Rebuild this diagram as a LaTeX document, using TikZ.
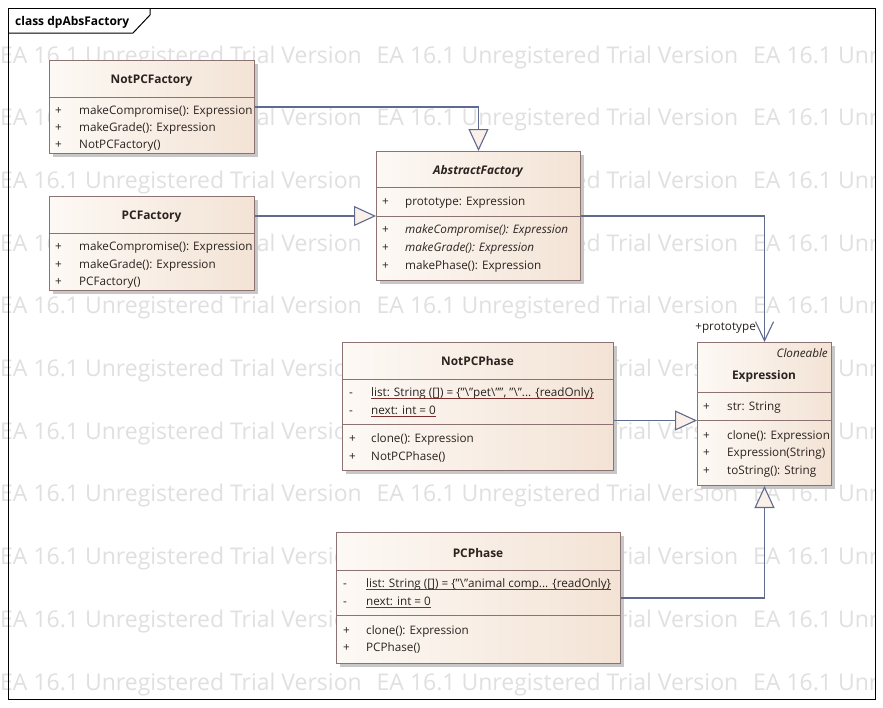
\documentclass[tikz,border=0pt]{standalone}
\usepackage{fontspec}
\setmainfont{Open Sans}
\usetikzlibrary{arrows.meta,shadows}
\definecolor{wm}{HTML}{E0E0E0}
\definecolor{bordc}{HTML}{8C7272}
\definecolor{linec}{HTML}{5E6A8E}
\definecolor{fillL}{HTML}{FDF9F5}
\definecolor{fillR}{HTML}{F3E3D5}
\definecolor{txt}{HTML}{2A2320}
\definecolor{ulc}{HTML}{7A2E2E}
\definecolor{trif}{HTML}{FBEFE9}
\begin{document}
\begin{tikzpicture}[x=1pt,y=-1pt,
  classbox/.style={draw=bordc, line width=1pt, left color=fillL, right color=fillR,
    anchor=north west, inner sep=0pt,
    drop shadow={shadow xshift=3pt, shadow yshift=-3pt, fill=black!22, opacity=1}},
  divider/.style={draw=bordc, line width=1pt},
  mem/.style={anchor=base west, inner sep=0pt, font=\fontsize{11.7}{13}\selectfont, text=txt},
  vis/.style={anchor=base west, inner sep=0pt, font=\fontsize{11.7}{13}\selectfont, text=txt},
  hdr/.style={anchor=base, inner sep=0pt, font=\fontsize{11.9}{13}\selectfont\bfseries, text=txt},
  wmk/.style={anchor=base west, inner sep=0pt, font=\fontsize{23}{26}\selectfont, text=wm},
  gen/.style={draw=linec, line width=1.1pt, -{Triangle[length=22pt,width=20pt,fill=trif,line width=1.1pt]}},
  assoc/.style={draw=linec, line width=1.1pt, -{Straight Barb[length=19pt,width=18pt,line width=1.1pt]}},
  ul/.style={draw=ulc, line width=0.8pt}
]
\useasboundingbox (0,0) rectangle (883,707);
\fill[white] (0,0) rectangle (883,707);

% watermark
\begin{scope}
\clip (0,0) rectangle (875,707);
\foreach \r in {0,...,10}{
  \foreach \c in {0,1,2}{
    \node[wmk] (w-\r-\c) at (\c*376.5, 63+\r*62.7) {EA 16.1 Unregistered Trial Version};
  }
}
\end{scope}

% frame
\draw[black, line width=1pt] (8,8) rectangle (875,699);
\draw[black, line width=1pt] (150,8) -- (150,15) -- (133,33) -- (8,33);
\node[anchor=base west, inner sep=0pt, font=\fontsize{12}{13}\selectfont\bfseries] (title) at (15,25) {class dpAbsFactory};

% NotPCFactory
\node[classbox, minimum width=205pt, minimum height=93pt] (npf) at (49,60) {};
\draw[divider] (49,97) -- (254,97);
\node[hdr] (npfh) at (151.5,83) {NotPCFactory};
\node[vis] (npf1v) at (55,114) {+};
\node[mem] (npf1) at (79,114) {makeCompromise(): Expression};
\node[vis] (npf2v) at (55,131) {+};
\node[mem] (npf2) at (79,131) {makeGrade(): Expression};
\node[vis] (npf3v) at (55,148) {+};
\node[mem] (npf3) at (79,148) {NotPCFactory()};

% PCFactory
\node[classbox, minimum width=205pt, minimum height=94pt] (pf) at (49,196) {};
\draw[divider] (49,233) -- (254,233);
\node[hdr] (pfh) at (151.5,219) {PCFactory};
\node[vis] (pf1v) at (55,250) {+};
\node[mem] (pf1) at (79,250) {makeCompromise(): Expression};
\node[vis] (pf2v) at (55,268) {+};
\node[mem] (pf2) at (79,268) {makeGrade(): Expression};
\node[vis] (pf3v) at (55,285) {+};
\node[mem] (pf3) at (79,285) {PCFactory()};

% AbstractFactory
\node[classbox, minimum width=204pt, minimum height=129pt] (af) at (376,151) {};
\draw[divider] (376,187) -- (580,187);
\draw[divider] (376,216) -- (580,216);
\node[hdr] (afh) at (478,174) {\itshape AbstractFactory};
\node[vis] (af1v) at (382,205) {+};
\node[mem] (af1) at (405,205) {prototype: Expression};
\node[vis] (af2v) at (382,233) {+};
\node[mem] (af2) at (405,233) {\itshape makeCompromise(): Expression};
\node[vis] (af3v) at (382,251) {+};
\node[mem] (af3) at (405,251) {\itshape makeGrade(): Expression};
\node[vis] (af4v) at (382,269) {+};
\node[mem] (af4) at (405,269) {makePhase(): Expression};

% Expression
\node[classbox, minimum width=134pt, minimum height=143pt] (ex) at (697,342) {};
\draw[divider] (697,392) -- (831,392);
\node[anchor=base east, inner sep=0pt, font=\fontsize{11.7}{13}\selectfont\itshape, text=txt] (exs) at (828,357) {Cloneable};
\node[hdr] (exh) at (764,379) {Expression};
\draw[divider] (697,420) -- (831,420);
\node[vis] (ex1v) at (703,410) {+};
\node[mem] (ex1) at (727,410) {str: String};
\node[vis] (ex2v) at (703,439) {+};
\node[mem] (ex2) at (727,439) {clone(): Expression};
\node[vis] (ex3v) at (703,456) {+};
\node[mem] (ex3) at (727,456) {Expression(String)};
\node[vis] (ex4v) at (703,474) {+};
\node[mem] (ex4) at (727,474) {toString(): String};

% NotPCPhase
\node[classbox, minimum width=271pt, minimum height=128pt] (npp) at (342,342) {};
\draw[divider] (342,379) -- (613,379);
\draw[divider] (342,424) -- (613,424);
\node[hdr] (npph) at (477.5,365) {NotPCPhase};
\node[vis] (npp1v) at (349,396) {-};
\node[mem] (npp1) at (371,396) {list: String ([]) = \{"\textbackslash"pet\textbackslash"", "\textbackslash"... \{readOnly\}};
\draw[ul] ([yshift=-2.5pt]npp1.base west) -- ([yshift=-2.5pt]npp1.base east);
\node[vis] (npp2v) at (349,414) {-};
\node[mem] (npp2) at (371,414) {next: int = 0};
\draw[ul] ([yshift=-2.5pt]npp2.base west) -- ([yshift=-2.5pt]npp2.base east);
\node[vis] (npp3v) at (349,442) {+};
\node[mem] (npp3) at (371,442) {clone(): Expression};
\node[vis] (npp4v) at (349,460) {+};
\node[mem] (npp4) at (371,460) {NotPCPhase()};

% PCPhase
\node[classbox, minimum width=284pt, minimum height=131pt] (pp) at (336,532) {};
\draw[divider] (336,570) -- (620,570);
\draw[divider] (336,615) -- (620,615);
\node[hdr] (pph) at (478,557) {PCPhase};
\node[vis] (pp1v) at (343,587) {-};
\node[mem] (pp1) at (366,587) {list: String ([]) = \{"\textbackslash"animal comp... \{readOnly\}};
\draw[ul] ([yshift=-2.5pt]pp1.base west) -- ([yshift=-2.5pt]pp1.base east);
\node[vis] (pp2v) at (343,605) {-};
\node[mem] (pp2) at (366,605) {next: int = 0};
\draw[ul] ([yshift=-2.5pt]pp2.base west) -- ([yshift=-2.5pt]pp2.base east);
\node[vis] (pp3v) at (343,634) {+};
\node[mem] (pp3) at (366,634) {clone(): Expression};
\node[vis] (pp4v) at (343,651) {+};
\node[mem] (pp4) at (366,651) {PCPhase()};

% connectors
\draw[gen] (npf.east) -| (af.north);
\draw[gen] (pf.east |- af.west) -- (af.west);
\draw[assoc] (af.east) -| (ex.north);
\node[anchor=base east, inner sep=0pt, font=\fontsize{11.7}{13}\selectfont, text=txt] (protolbl) at (756,330) {+prototype};
\draw[gen] ([yshift=-6.5pt]npp.east |- ex.west) -- ([yshift=-6.5pt]ex.west);
\draw[gen] (pp.east) -| (ex.south);
\end{tikzpicture}
\end{document}
